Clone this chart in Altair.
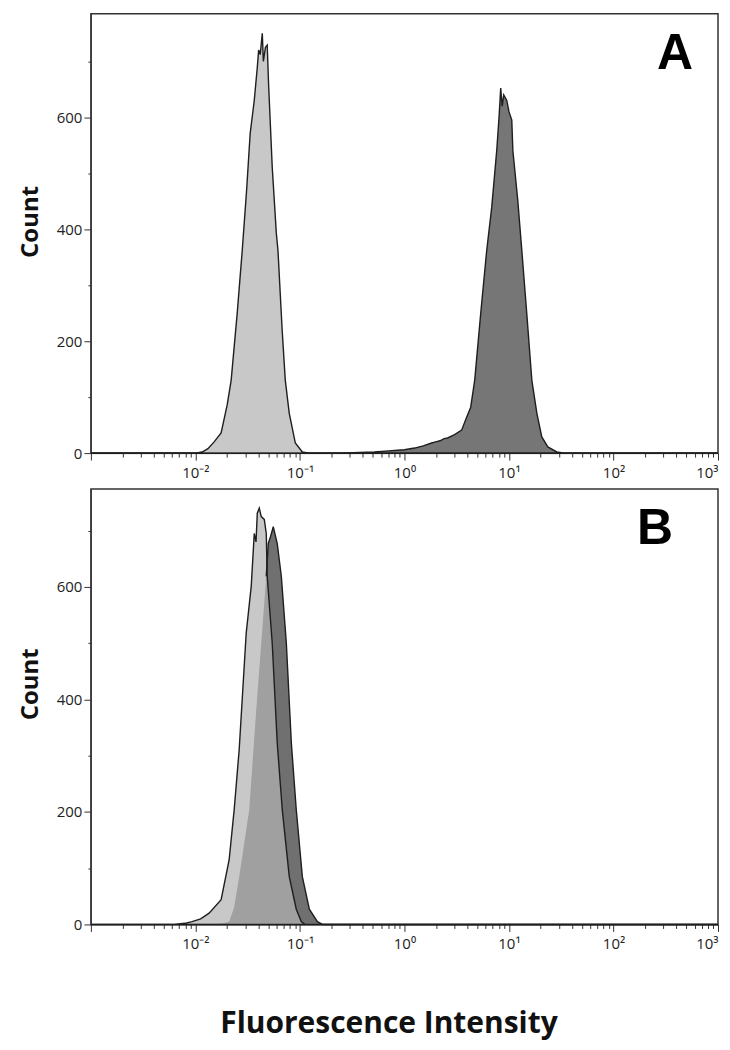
import altair as alt
import pandas as pd

# ---------------- data (log10 fluorescence intensity, count) ----------------
a_light_log = [-3.0, -2.0, -1.936, -1.88, -1.821, -1.754, -1.696, -1.658, -1.60, -1.552,
               -1.51, -1.476, -1.437, -1.408, -1.395, -1.38, -1.36, -1.35, -1.33, -1.313,
               -1.30, -1.293, -1.265, -1.226, -1.21, -1.17, -1.14, -1.102, -1.044, -0.977,
               -0.91, 3.0]
a_light_cnt = [0, 0, 2, 8, 20, 36, 86, 130, 250, 362,
               470, 571, 630, 689, 720, 712, 750, 700, 725, 729,
               660, 630, 511, 393, 362, 220, 130, 71, 18, 2,
               0, 0]

a_dark_log = [-3.0, -0.6, -0.43, -0.287, -0.15, -0.066, 0.0, 0.097, 0.18, 0.26,
              0.30, 0.34, 0.38, 0.413, 0.48, 0.547, 0.595, 0.634, 0.672, 0.73,
              0.787, 0.835, 0.883, 0.905, 0.921, 0.935, 0.95, 0.979, 1.0, 1.027,
              1.037, 1.084, 1.123, 1.17, 1.219, 1.267, 1.314, 1.372, 1.458, 1.535,
              3.0]
a_dark_cnt = [0, 0, 1, 2, 4, 5, 6, 9, 13, 18,
              20, 22, 26, 27, 33, 41, 64, 82, 130, 250,
              362, 439, 541, 600, 652, 620, 640, 630, 610, 595,
              541, 452, 362, 250, 130, 71, 29, 11, 2, 0,
              0]

b_light_log = [-3.0, -2.2, -2.1, -2.032, -1.95, -1.869, -1.754, -1.677, -1.629, -1.581,
               -1.514, -1.466, -1.437, -1.42, -1.408, -1.389, -1.37, -1.341, -1.322, -1.313,
               -1.265, -1.217, -1.169, -1.102, -1.035, -0.987, -0.95, 3.0]
b_light_cnt = [0, 0, 2, 5, 10, 20, 44, 115, 204, 311,
               518, 601, 695, 680, 731, 740, 725, 720, 695, 619,
               500, 322, 204, 85, 27, 5, 0, 0]

b_dark_log = [-3.0, -1.8, -1.72, -1.677, -1.63, -1.581, -1.485, -1.418, -1.37, -1.322,
              -1.303, -1.28, -1.255, -1.24, -1.217, -1.178, -1.13, -1.082, -1.035, -0.977,
              -0.91, -0.833, -0.785, 3.0]
b_dark_cnt = [0, 0, 3, 5, 30, 85, 204, 382, 500, 619,
              677, 690, 707, 695, 677, 619, 500, 322, 204, 85,
              27, 5, 0, 0]

decade_exps = [-3, -2, -1, 0, 1, 2, 3]
decade_labels = ["", "10⁻²", "10⁻¹", "10⁰", "10¹", "10²", "10³"]
minor_mults = [1, 2, 3, 4, 5, 6, 7, 8, 9]
y_tick_values = [0, 100, 200, 300, 400, 500, 600, 700]
y_label_values = [0, 200, 400, 600]
panel_letters = ["A", "B"]
# in panel B the dark outline is only visible where it is not covered by the light histogram
b_dark_outline_from_log = -1.33


def frame(logs, cnts):
    return pd.DataFrame({"x": [10 ** v for v in logs], "count": cnts})


x_ticks = [m * 10.0 ** e for e in decade_exps[:-1] for m in minor_mults] + [10.0 ** decade_exps[-1]]

x_label_expr = "''"
for e, lab in reversed(list(zip(decade_exps, decade_labels))):
    v = 10.0 ** e
    x_label_expr = f"abs(datum.value - {v}) < {v * 1e-6} ? '{lab}' : ({x_label_expr})"

y_label_expr = "''"
for v in reversed(y_label_values):
    y_label_expr = f"datum.value == {v} ? '{v}' : ({y_label_expr})"

is_decade = "abs(log(datum.value)/LN10 - round(log(datum.value)/LN10)) < 0.001"
is_y_major = "datum.value % 200 == 0"

LABEL_FONT = "Open Sans"
TITLE_FONT = "Open Sans"
EDGE = "#1e1e1e"

W = 628


def panel(light_df, dark_df, letter, height, ymax, show_x_title, letter_x, split_dark, count_y):
    x_axis = alt.Axis(
        values=x_ticks,
        labelExpr=x_label_expr,
        labelFlush=True,
        tickSize={"condition": {"test": is_decade, "value": 7}, "value": 4},
        labelPadding=5,
        labelFont=LABEL_FONT,
        labelFontSize=15,
        labelColor="#222",
        domainColor="#333",
        tickColor="#333",
        grid=False,
        title="Fluorescence Intensity" if show_x_title else None,
        titleFont=TITLE_FONT,
        titleFontSize=30,
        titleFontWeight="bold",
        titleColor="#111",
        titlePadding=57,
        titleX=298,
    )
    y_axis = alt.Axis(
        values=y_tick_values,
        labelExpr=y_label_expr,
        tickSize={"condition": {"test": is_y_major, "value": 7}, "value": 3},
        labelPadding=2,
        labelFont=LABEL_FONT,
        labelFontSize=15,
        labelColor="#222",
        domainColor="#333",
        tickColor="#333",
        grid=False,
        title="Count",
        titleFont=TITLE_FONT,
        titleFontSize=24,
        titleFontWeight="bold",
        titleColor="#111",
        titlePadding=14,
        titleY=count_y,
    )
    xs = alt.Scale(type="log", domain=[0.001, 1000], nice=False)
    ys = alt.Scale(domain=[0, ymax], nice=False)
    enc = dict(
        x=alt.X("x:Q", scale=xs, axis=x_axis),
        y=alt.Y("count:Q", scale=ys, axis=y_axis),
    )

    if split_dark:
        dark = alt.Chart(dark_df).mark_area(
            fill="#707070", strokeWidth=0, interpolate="linear"
        ).encode(**enc)
    else:
        dark = alt.Chart(dark_df).mark_area(
            fill="#767676", stroke=EDGE, strokeWidth=1.4, interpolate="linear"
        ).encode(**enc)
    light = alt.Chart(light_df).mark_area(
        fill="#b3b3b3", fillOpacity=0.72, stroke=EDGE, strokeWidth=1.4,
        interpolate="linear"
    ).encode(**enc)
    layers = [dark, light]
    if split_dark:
        outline = alt.Chart(dark_df).transform_filter(
            f"datum.x >= {10 ** b_dark_outline_from_log}"
        ).mark_line(color=EDGE, strokeWidth=1.4, interpolate="linear").encode(**enc)
        layers.append(outline)
    label = alt.Chart(pd.DataFrame({"t": [letter]})).mark_text(
        font="Liberation Sans", fontWeight="bold", fontSize=50, color="#000",
        align="center", baseline="middle"
    ).encode(text="t:N", x=alt.value(letter_x), y=alt.value(40))
    layers.append(label)
    return alt.layer(*layers).properties(width=W, height=height)


pa = panel(frame(a_light_log, a_light_cnt), frame(a_dark_log, a_dark_cnt),
           panel_letters[0], 440, 785, False, 585, False, 208)
pb = panel(frame(b_light_log, b_light_cnt), frame(b_dark_log, b_dark_cnt),
           panel_letters[1], 436, 774, True, 565, True, 195)

chart = alt.vconcat(pa, pb, spacing=7).properties(
    padding={"left": 9, "top": 4, "right": 0, "bottom": 4}
).configure(background="white").configure_view(
    stroke="#333", strokeWidth=1.5
)

chart.save("out.html", embed_options={"renderer": "svg", "actions": False})
